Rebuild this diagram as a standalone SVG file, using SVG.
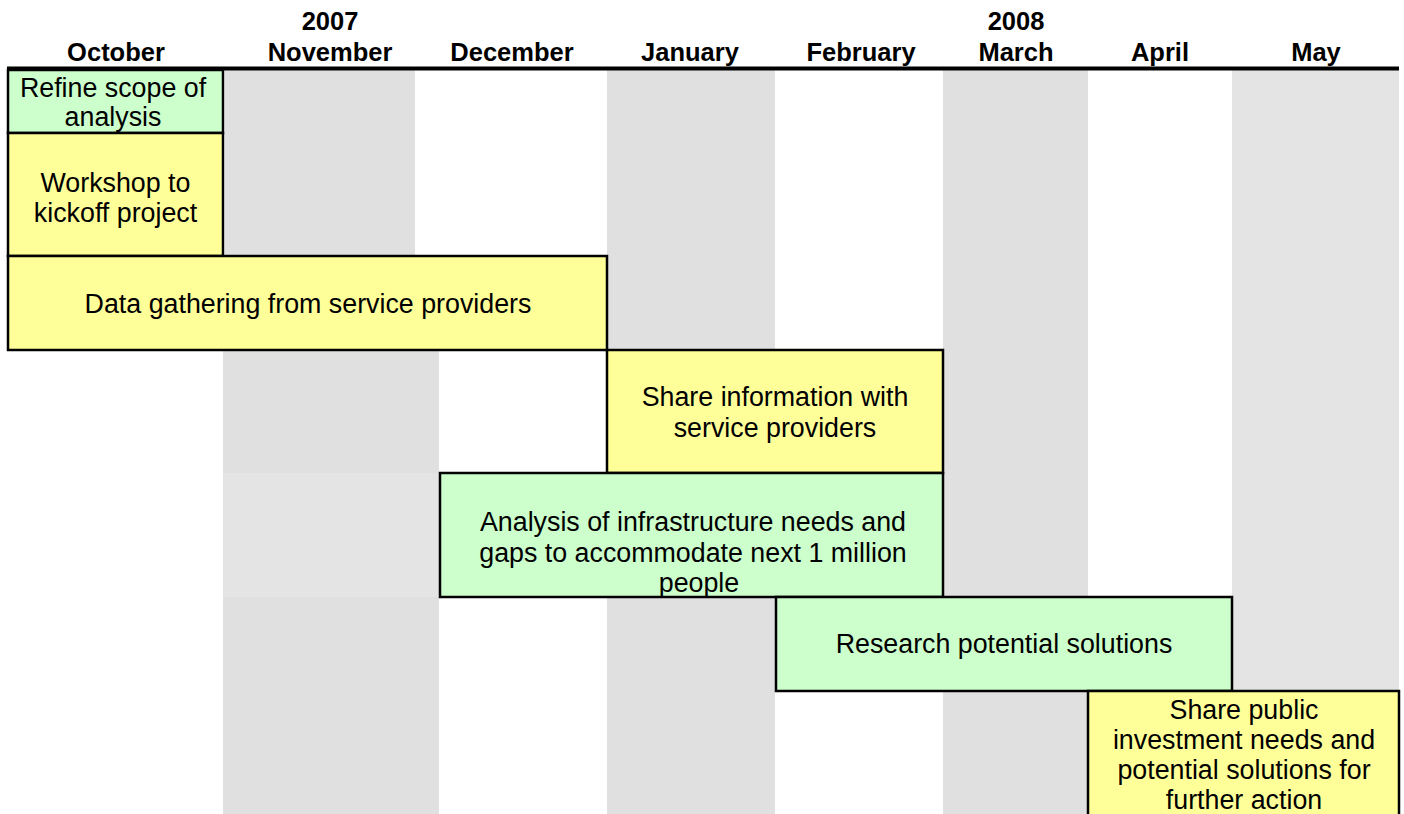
<svg xmlns="http://www.w3.org/2000/svg" width="1404" height="814" viewBox="0 0 1404 814">
<style>
.hd{font-family:"Liberation Sans",Arial,sans-serif;font-size:25.5px;font-weight:bold;fill:#000;text-anchor:middle}
.tx{font-family:"Liberation Sans",Arial,sans-serif;font-size:26.8px;fill:#000;text-anchor:middle}
.g{fill:#ccffcc;stroke:#000;stroke-width:2.5}
.y{fill:#ffff99;stroke:#000;stroke-width:2.5}
.c1{fill:#e0e0e0}
.c2{fill:#e4e4e4}
</style>
<rect width="1404" height="814" fill="#fff"/>
<g id="background">
<rect class="c1" x="225" y="70" width="190" height="186"/>
<rect class="c1" x="223" y="350" width="216" height="123"/>
<rect class="c2" x="223" y="473" width="216" height="124"/>
<rect class="c1" x="223" y="597" width="216" height="217"/>
<rect class="c1" x="607" y="70" width="168" height="744"/>
<rect class="c1" x="943" y="70" width="145" height="744"/>
<rect class="c2" x="1232" y="70" width="167" height="744"/>
</g>
<g id="header">
<text class="hd" x="330" y="30">2007</text>
<text class="hd" x="1016" y="30">2008</text>
<text class="hd" x="116" y="61">October</text>
<text class="hd" x="330" y="61">November</text>
<text class="hd" x="512" y="61">December</text>
<text class="hd" x="690" y="61">January</text>
<text class="hd" x="861" y="61">February</text>
<text class="hd" x="1016" y="61">March</text>
<text class="hd" x="1160" y="61">April</text>
<text class="hd" x="1316" y="61">May</text>
<line x1="7" y1="68.5" x2="1399" y2="68.5" stroke="#000" stroke-width="4"/>
</g>
<g id="connectors"></g>
<g id="refine">
<rect class="g" x="8" y="70" width="215" height="63"/>
<text class="tx" x="113" y="97">Refine scope of</text>
<text class="tx" x="113" y="126">analysis</text>
</g>
<g id="workshop">
<rect class="y" x="8" y="133" width="215" height="123"/>
<text class="tx" x="115.5" y="192">Workshop to</text>
<text class="tx" x="115.5" y="222">kickoff project</text>
</g>
<g id="data">
<rect class="y" x="8" y="256" width="599" height="94"/>
<text class="tx" x="308" y="313">Data gathering from service providers</text>
</g>
<g id="share-info">
<rect class="y" x="607" y="350" width="336" height="123"/>
<text class="tx" x="775" y="406">Share information with</text>
<text class="tx" x="775" y="437">service providers</text>
</g>
<g id="analysis">
<rect class="g" x="440" y="473" width="503" height="124"/>
<text class="tx" x="693" y="531">Analysis of infrastructure needs and</text>
<text class="tx" x="693" y="562">gaps to accommodate next 1 million</text>
<text class="tx" x="699" y="592">people</text>
</g>
<g id="research">
<rect class="g" x="776" y="597" width="456" height="94"/>
<text class="tx" x="1004" y="653">Research potential solutions</text>
</g>
<g id="share-public">
<rect class="y" x="1088" y="691" width="311" height="130"/>
<text class="tx" x="1244" y="719">Share public</text>
<text class="tx" x="1244" y="749">investment needs and</text>
<text class="tx" x="1244" y="779">potential solutions for</text>
<text class="tx" x="1244" y="809">further action</text>
</g>
</svg>
